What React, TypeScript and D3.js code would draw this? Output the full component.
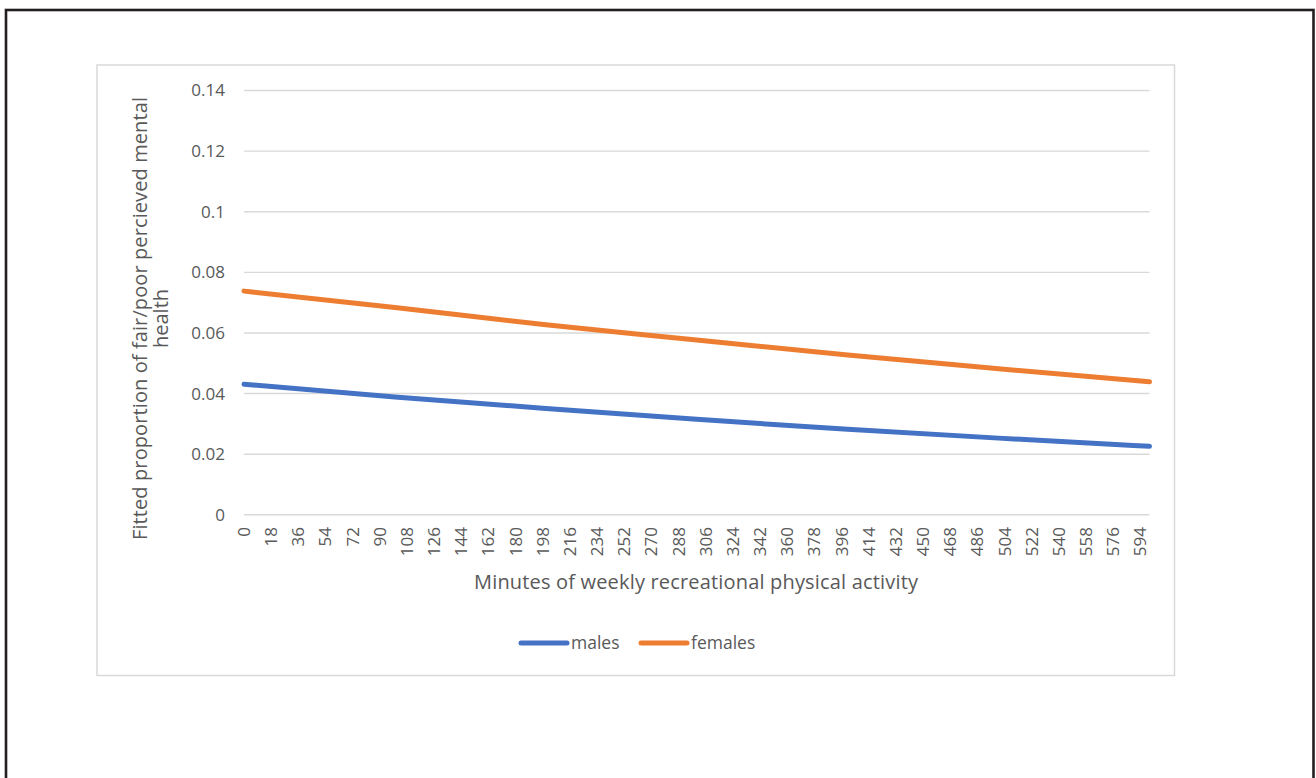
import React from "react";
import * as d3 from "d3";

const minutes = [0, 100, 200, 300, 400, 500, 600];
const males = [0.0431, 0.0389, 0.0351, 0.0315, 0.0282, 0.0253, 0.0226];
const females = [0.0738, 0.0684, 0.0627, 0.0577, 0.0527, 0.0482, 0.0439];
const xTickLabels = [0, 18, 36, 54, 72, 90, 108, 126, 144, 162, 180, 198, 216, 234, 252, 270, 288, 306, 324, 342, 360, 378, 396, 414, 432, 450, 468, 486, 504, 522, 540, 558, 576, 594];
const yTicks = [0, 0.02, 0.04, 0.06, 0.08, 0.1, 0.12, 0.14];
const seriesNames = ["males", "females"];
const seriesColors = ["#4472C4", "#ED7D31"];

const FONT = "'Open Sans', 'Liberation Sans', sans-serif";
const TXT = "#595959";
const GRID = "#d9d9d9";

export default function App() {
  const x = d3.scaleLinear().domain([0, 600]).range([244, 1149.5]);
  const y = d3.scaleLinear().domain([0, 0.14]).range([514.8, 90.5]);
  const line = d3
    .line<number>()
    .x((_, i) => x(minutes[i]))
    .y((d) => y(d))
    .curve(d3.curveMonotoneX);
  const series = [males, females];

  return (
    <svg
      width={1316}
      height={778}
      style={{ position: "absolute", left: 0, top: 0, background: "#fff" }}
      fontFamily={FONT}
    >
      <rect x={0} y={0} width={1316} height={778} fill="#fff" />
      <rect x={6} y={10} width={1307.5} height={820} fill="none" stroke="#231f20" strokeWidth={2.6} />
      <rect x={97} y={65} width={1077.5} height={610.5} fill="none" stroke={GRID} strokeWidth={1.5} />

      {yTicks.map((t) => (
        <g key={t}>
          <line x1={x(0)} x2={x(600)} y1={y(t)} y2={y(t)} stroke={GRID} strokeWidth={1.4} />
          <text x={225} y={y(t)} dy="0.35em" textAnchor="end" fontSize={17} fill={TXT}>
            {t}
          </text>
        </g>
      ))}

      {xTickLabels.map((t) => (
        <text
          key={t}
          transform={`translate(${x(t)},527) rotate(-90)`}
          dy="0.35em"
          textAnchor="end"
          fontSize={17}
          fill={TXT}
        >
          {t}
        </text>
      ))}

      {series.map((s, i) => (
        <path
          key={seriesNames[i]}
          d={line(s) || ""}
          fill="none"
          stroke={seriesColors[i]}
          strokeWidth={5}
          strokeLinecap="round"
          strokeLinejoin="round"
        />
      ))}

      <text
        transform="translate(140,318.5) rotate(-90)"
        dy="0.35em"
        textAnchor="middle"
        fontSize={20}
        fill={TXT}
        textLength={443}
        lengthAdjust="spacing"
      >
        Fitted proportion of fair/poor percieved mental
      </text>
      <text transform="translate(161,318.5) rotate(-90)" dy="0.35em" textAnchor="middle" fontSize={20} fill={TXT}>
        health
      </text>

      <text
        x={696}
        y={582}
        dy="0.35em"
        textAnchor="middle"
        fontSize={20}
        fill={TXT}
        textLength={444}
        lengthAdjust="spacing"
      >
        Minutes of weekly recreational physical activity
      </text>

      {seriesNames.map((n, i) => {
        const lx = i === 0 ? 521 : 641;
        return (
          <g key={n}>
            <line x1={lx} x2={lx + 46} y1={643} y2={643} stroke={seriesColors[i]} strokeWidth={5} strokeLinecap="round" />
            <text x={lx + 50} y={643} dy="0.35em" fontSize={17.5} fill={TXT}>
              {n}
            </text>
          </g>
        );
      })}
    </svg>
  );
}
